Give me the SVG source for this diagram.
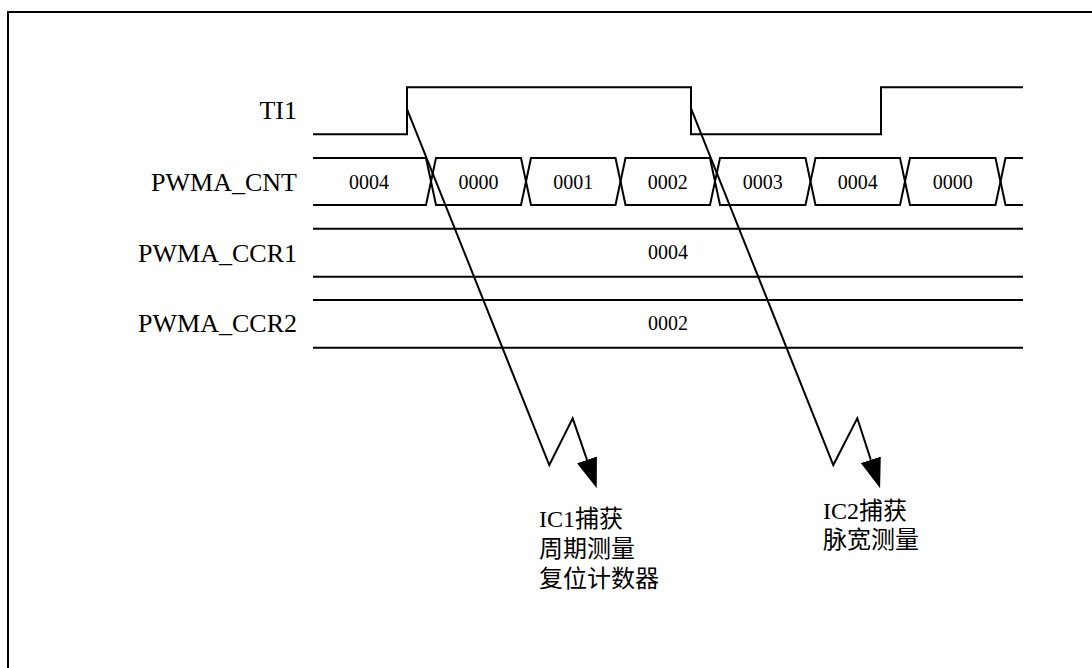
<svg xmlns="http://www.w3.org/2000/svg" width="1092" height="668" viewBox="0 0 1092 668">
<style>
.ln{fill:none;stroke:#000;stroke-width:2}
.lbl{font-family:"Liberation Serif","Noto Sans CJK SC",serif;font-size:26px;fill:#000;text-anchor:end}
.val{font-family:"Liberation Serif",serif;font-size:20px;fill:#000;text-anchor:middle}
.note{font-family:"Liberation Serif","Noto Sans CJK SC",serif;font-size:24px;fill:#000}
</style>
<defs>
<marker id="ah" viewBox="0 0 30 21" refX="0" refY="10.5" markerWidth="30" markerHeight="21" markerUnits="userSpaceOnUse" orient="auto">
<path d="M0,0 L30,10.5 L0,21 Z" fill="#000"/>
</marker>
</defs>
<rect x="8" y="12" width="1200" height="700" fill="#fff" stroke="#000" stroke-width="2"/>
<g id="labels">
<text class="lbl" x="297" y="119">TI1</text>
<text class="lbl" x="297" y="190.7">PWMA_CNT</text>
<text class="lbl" x="297" y="261.7">PWMA_CCR1</text>
<text class="lbl" x="297" y="332.3">PWMA_CCR2</text>
</g>
<g id="ti1">
<path class="ln" d="M313,134.3 L407,134.3 L407,87.3 L691,87.3 L691,134.3 L881,134.3 L881,87.3 L1023,87.3"/>
</g>
<g id="cnt">
<g id="cnt0"><path class="ln" d="M313,158 L426,158 L431,181.5 L426,205 L313,205"/><text class="val" x="369" y="188.5">0004</text></g>
<g id="cnt1"><path class="ln" d="M436,158 L521,158 L526,181.5 L521,205 L436,205 L431,181.5 Z"/><text class="val" x="478.5" y="188.5">0000</text></g>
<g id="cnt2"><path class="ln" d="M531,158 L615.5,158 L620.5,181.5 L615.5,205 L531,205 L526,181.5 Z"/><text class="val" x="573.3" y="188.5">0001</text></g>
<g id="cnt3"><path class="ln" d="M625.5,158 L710,158 L715,181.5 L710,205 L625.5,205 L620.5,181.5 Z"/><text class="val" x="667.8" y="188.5">0002</text></g>
<g id="cnt4"><path class="ln" d="M720,158 L805.5,158 L810.5,181.5 L805.5,205 L720,205 L715,181.5 Z"/><text class="val" x="762.8" y="188.5">0003</text></g>
<g id="cnt5"><path class="ln" d="M815.5,158 L900,158 L905,181.5 L900,205 L815.5,205 L810.5,181.5 Z"/><text class="val" x="857.8" y="188.5">0004</text></g>
<g id="cnt6"><path class="ln" d="M910,158 L995.5,158 L1000.5,181.5 L995.5,205 L910,205 L905,181.5 Z"/><text class="val" x="952.8" y="188.5">0000</text></g>
<g id="cnt7"><path class="ln" d="M1023,158 L1005.5,158 L1000.5,181.5 L1005.5,205 L1023,205"/></g>
</g>
<g id="ccr1">
<path class="ln" d="M313,228.7 L1023,228.7 M313,276.7 L1023,276.7"/>
<text class="val" x="668" y="259.3">0004</text>
</g>
<g id="ccr2">
<path class="ln" d="M313,300 L1023,300 M313,347.7 L1023,347.7"/>
<text class="val" x="668" y="330">0002</text>
</g>
<g id="connectors">
<path class="ln" d="M406.7,108.3 L549.3,465 L572.7,418.3 L587,459.9" marker-end="url(#ah)"/>
<path class="ln" d="M691,108.3 L833.3,465 L857.3,418.3 L870.8,459.8" marker-end="url(#ah)"/>
</g>
<g id="note1">
<text class="note" x="539" y="527">IC1捕获</text>
<text class="note" x="539" y="557">周期测量</text>
<text class="note" x="539" y="587">复位计数器</text>
</g>
<g id="note2">
<text class="note" x="823" y="518.5">IC2捕获</text>
<text class="note" x="823" y="547.5">脉宽测量</text>
</g>
</svg>
